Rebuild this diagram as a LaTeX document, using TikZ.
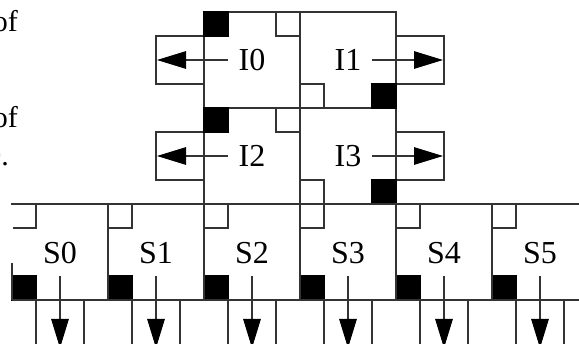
\documentclass[tikz,border=0pt]{standalone}
\usepackage{fontspec}
\setmainfont{Liberation Serif}
\usetikzlibrary{arrows.meta}
\tikzset{
  x=1pt,y=-1pt,
  linecol/.style={draw=black!80!white,line width=1.25pt},
  blk/.style={linecol,rectangle,inner sep=0pt,outer sep=0pt,minimum size=96pt},
  port/.style={linecol,rectangle,inner sep=0pt,outer sep=0pt,minimum size=24pt},
  fullport/.style={port,draw=black,fill=black},
  outbox/.style={linecol,rectangle,inner sep=0pt,outer sep=0pt,minimum size=48pt},
  arr/.style={linecol,-{Triangle[length=29pt,width=17.5pt,black]}},
  lbl/.style={inner sep=0pt,font=\fontsize{32}{34}\selectfont,anchor=base},
  frag/.style={inner sep=0pt,font=\fontsize{30}{32}\selectfont,anchor=base east},
}
\begin{document}
\begin{tikzpicture}
\useasboundingbox (0,0) rectangle (579,344);
\clip (0,0) rectangle (579,344);
% fragments of clipped text
\node[frag] (t1) at (18,32) {of};
\node[frag] (t2) at (18,128) {of};
\node[frag] (t3) at (9,166) {0.};
% output boxes
\node[outbox] (ob0) at (180,60) {};
\node[outbox] (ob1) at (420,60) {};
\node[outbox] (ob2) at (180,156) {};
\node[outbox] (ob3) at (420,156) {};
% I blocks
\node[blk] (I0) at (252,60) {};
\node[blk] (I1) at (348,60) {};
\node[blk] (I2) at (252,156) {};
\node[blk] (I3) at (348,156) {};
\node[lbl] (l0) at (252,71) {I0};
\node[lbl] (l1) at (348,71) {I1};
\node[lbl] (l2) at (252,167) {I2};
\node[lbl] (l3) at (348,167) {I3};
\node[fullport] (p0) at (216,24) {};
\node[port] (p1) at (288,24) {};
\node[port] (p2) at (312,96) {};
\node[fullport] (p3) at (384,96) {};
\node[fullport] (p4) at (216,120) {};
\node[port] (p5) at (288,120) {};
\node[port] (p6) at (312,192) {};
\node[fullport] (p7) at (384,192) {};
% S blocks
\foreach \i/\x in {0/60,1/156,2/252,3/348,4/444,5/540}{
  \node[outbox] (so\i) at (\x,324) {};
  \node[lbl] (sl\i) at (\x,264) {S\i};
  \node[fullport] (sb\i) at (\x-36,288) {};
  \coordinate (sf\i) at (\x,348);
  \coordinate (ss\i) at (\x,276);
  \draw[arr] (ss\i) -- (sf\i);
}
\foreach \i/\x in {1/156,2/252,3/348,4/444,5/540}{
  \node[port] (sa\i) at (\x-36,216) {};
}
% the clipped small port of S0, open at its left
\draw[linecol] (12,204) -- (36,204) -- (36,228) -- (13,228);
% S block outlines (S0 partly open at the left)
\draw[linecol] (11,204) -- (579,204);
\draw[linecol] (12,300) -- (579,300);
\draw[linecol] (12,263) -- (12,300);
\foreach \x in {108,204,300,396,492}{\draw[linecol] (\x,204) -- (\x,300);}
% arrows of I blocks
\coordinate (a0) at (228,60);
\coordinate (a1) at (372,60);
\coordinate (a2) at (228,156);
\coordinate (a3) at (372,156);
\coordinate (b0) at (157,60);
\coordinate (b1) at (443,60);
\coordinate (b2) at (157,156);
\coordinate (b3) at (443,156);
\draw[arr] (a0) -- (b0);
\draw[arr] (a1) -- (b1);
\draw[arr] (a2) -- (b2);
\draw[arr] (a3) -- (b3);
\end{tikzpicture}
\end{document}
